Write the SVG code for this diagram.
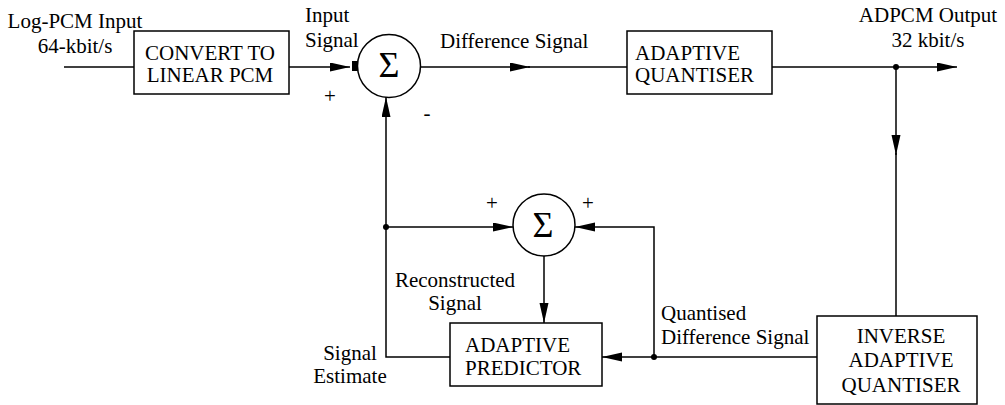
<svg xmlns="http://www.w3.org/2000/svg" width="1005" height="405" viewBox="0 0 1005 405">
<style>
text{font-family:"Liberation Serif","Times New Roman",serif;font-size:21px;fill:#000}
.sig{font-size:36px}
.box{fill:#fff;stroke:#000;stroke-width:1.5}
.ln{fill:none;stroke:#000;stroke-width:1.5}
.c{text-anchor:middle}
</style>
<defs>
<marker id="ah" markerUnits="userSpaceOnUse" markerWidth="20" markerHeight="10" refX="20" refY="4.5" orient="auto">
<path d="M0,0 L20,4.5 L0,9 z" fill="#000"/>
</marker>
</defs>
<g id="connectors">
<line class="ln" x1="64" y1="67" x2="134" y2="67"/>
<line class="ln" x1="289" y1="67" x2="350" y2="67" marker-end="url(#ah)"/>
<rect x="352" y="61" width="6" height="10" fill="#000"/>
<line class="ln" x1="421" y1="67" x2="530" y2="67" marker-end="url(#ah)"/>
<line class="ln" x1="528" y1="67" x2="627" y2="67"/>
<line class="ln" x1="772" y1="67" x2="957" y2="67" marker-end="url(#ah)"/>
<circle cx="896" cy="67" r="3" fill="#000"/>
<line class="ln" x1="896" y1="67" x2="896" y2="155" marker-end="url(#ah)"/>
<line class="ln" x1="896" y1="153" x2="896" y2="316"/>
<polyline class="ln" points="817,357 602,357" marker-end="url(#ah)"/>
<circle cx="654" cy="357" r="3" fill="#000"/>
<polyline class="ln" points="654,357 654,227 575,227" marker-end="url(#ah)"/>
<line class="ln" x1="544" y1="256" x2="544" y2="323" marker-end="url(#ah)"/>
<polyline class="ln" points="450,357 386,357 386,97" marker-end="url(#ah)"/>
<circle cx="386" cy="227" r="3" fill="#000"/>
<line class="ln" x1="386" y1="227" x2="513" y2="227" marker-end="url(#ah)"/>
</g>
<g id="labels">
<text x="75" y="28" class="c">Log-PCM Input</text>
<text x="75" y="53" class="c">64-kbit/s</text>
<text x="305" y="22">Input</text>
<text x="305" y="47">Signal</text>
<text x="330" y="103" class="c">+</text>
<text x="427" y="120" class="c">-</text>
<text x="440" y="48">Difference Signal</text>
<text x="928" y="22" class="c">ADPCM Output</text>
<text x="928" y="47" class="c">32 kbit/s</text>
<text x="492" y="210" class="c">+</text>
<text x="588" y="210" class="c">+</text>
<text x="455" y="287" class="c">Reconstructed</text>
<text x="455" y="310" class="c">Signal</text>
<text x="350" y="360" class="c">Signal</text>
<text x="350" y="383" class="c">Estimate</text>
<text x="661" y="320">Quantised</text>
<text x="661" y="344">Difference Signal</text>
</g>
<g id="convert">
<rect class="box" x="134" y="31" width="155" height="63"/>
<text x="210" y="60" class="c">CONVERT TO</text>
<text x="210" y="82" class="c">LINEAR PCM</text>
</g>
<g id="sum1">
<circle class="box" cx="389" cy="66" r="31.5"/>
<text x="389" y="77" class="c sig">Σ</text>
</g>
<g id="quantiser">
<rect class="box" x="627" y="31" width="145" height="63"/>
<text x="635" y="60">ADAPTIVE</text>
<text x="635" y="82">QUANTISER</text>
</g>
<g id="sum2">
<circle class="box" cx="544" cy="225" r="31"/>
<text x="543" y="237" class="c sig">Σ</text>
</g>
<g id="predictor">
<rect class="box" x="450" y="323" width="152" height="63"/>
<text x="465" y="352">ADAPTIVE</text>
<text x="465" y="375">PREDICTOR</text>
</g>
<g id="inverse">
<rect class="box" x="817" y="316" width="160" height="88"/>
<text x="901" y="343" class="c">INVERSE</text>
<text x="901" y="367" class="c">ADAPTIVE</text>
<text x="901" y="392" class="c">QUANTISER</text>
</g>
</svg>
